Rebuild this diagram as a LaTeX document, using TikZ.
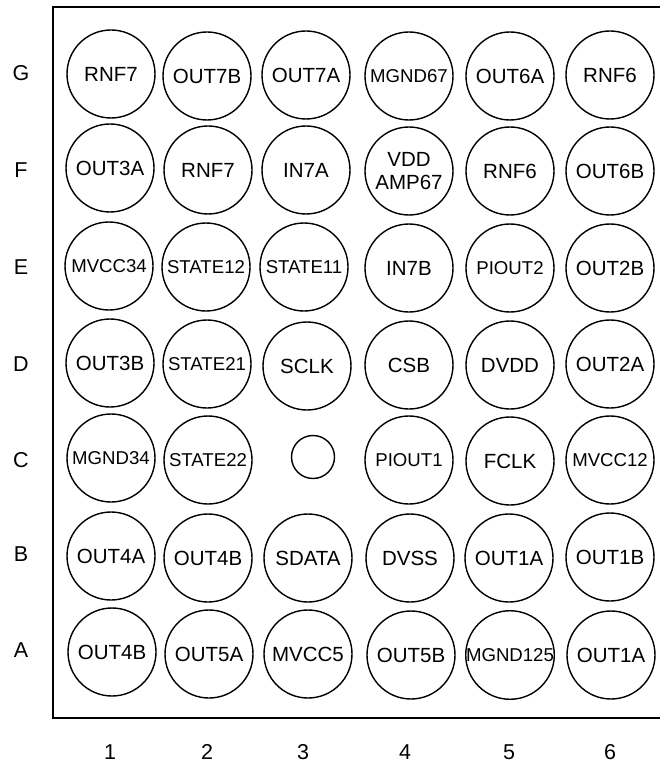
\documentclass[tikz,border=0pt]{standalone}
\usepackage{fontspec}
\setmainfont{Liberation Sans}
\usetikzlibrary{positioning}

\begin{document}
\begin{tikzpicture}[
    x=1pt, y=-1pt,
    ball/.style={circle, draw=black, line width=1.4pt, minimum size=88pt, inner sep=0pt, align=center, font=\fontsize{20.5}{22.5}\selectfont},
    longname/.style={font=\fontsize{18.6}{21}\selectfont},
    hole/.style={circle, draw=black, line width=1.4pt, minimum size=43pt, inner sep=0pt},
    gridlabel/.style={font=\fontsize{21.5}{24}\selectfont},
    frame/.style={draw=black, line width=2pt}
  ]
    \useasboundingbox (0,0) rectangle (660,767);
    \path [frame] (53,7) rectangle (664,718);

    % row G
    \node [ball] (g1) at (111,74) {RNF7};
    \node [ball] (g2) at (207,76) {OUT7B};
    \node [ball] (g3) at (306,75) {OUT7A};
    \node [ball, longname] (g4) at (409,76) {MGND67};
    \node [ball] (g5) at (510,76) {OUT6A};
    \node [ball] (g6) at (610,75) {RNF6};
    % row F
    \node [ball] (f1) at (110,168) {OUT3A};
    \node [ball] (f2) at (208,170) {RNF7};
    \node [ball] (f3) at (306,170) {IN7A};
    \node [ball] (f4) at (409,171) {VDD\\AMP67};
    \node [ball] (f5) at (510,171) {RNF6};
    \node [ball] (f6) at (610,171) {OUT6B};
    % row E
    \node [ball, longname] (e1) at (109,266) {MVCC34};
    \node [ball, longname] (e2) at (206,267) {STATE12};
    \node [ball, longname] (e3) at (304,267) {STATE11};
    \node [ball] (e4) at (409,268) {IN7B};
    \node [ball, longname] (e5) at (510,268) {PIOUT2};
    \node [ball] (e6) at (610,268) {OUT2B};
    % row D
    \node [ball] (d1) at (110,363) {OUT3B};
    \node [ball, longname] (d2) at (207,364) {STATE21};
    \node [ball] (d3) at (307,366) {SCLK};
    \node [ball] (d4) at (409,365) {CSB};
    \node [ball] (d5) at (510,365) {DVDD};
    \node [ball] (d6) at (610,364) {OUT2A};
    % row C
    \node [ball, longname] (c1) at (111,458) {MGND34};
    \node [ball, longname] (c2) at (208,460) {STATE22};
    \node [hole] (c3) at (313,457) {};
    \node [ball, longname] (c4) at (409,460) {PIOUT1};
    \node [ball] (c5) at (510,461) {FCLK};
    \node [ball, longname] (c6) at (610,460) {MVCC12};
    % row B
    \node [ball] (b1) at (111,556) {OUT4A};
    \node [ball] (b2) at (208,558) {OUT4B};
    \node [ball] (b3) at (308,558) {SDATA};
    \node [ball] (b4) at (410,558) {DVSS};
    \node [ball] (b5) at (509,558) {OUT1A};
    \node [ball] (b6) at (610,557) {OUT1B};
    % row A
    \node [ball] (a1) at (112,652) {OUT4B};
    \node [ball] (a2) at (209,654) {OUT5A};
    \node [ball] (a3) at (308,654) {MVCC5};
    \node [ball] (a4) at (411,655) {OUT5B};
    \node [ball, longname] (a5) at (510,655) {MGND125};
    \node [ball] (a6) at (611,655) {OUT1A};

    % row letters
    \node [gridlabel] (rowg) at (21,73) {G};
    \node [gridlabel] (rowf) at (21,170) {F};
    \node [gridlabel] (rowe) at (21,267) {E};
    \node [gridlabel] (rowd) at (21,364) {D};
    \node [gridlabel] (rowc) at (21,460) {C};
    \node [gridlabel] (rowb) at (21,554) {B};
    \node [gridlabel] (rowa) at (21,650) {A};
    % column numbers
    \node [gridlabel] (col1) at (110,752) {1};
    \node [gridlabel] (col2) at (207,752) {2};
    \node [gridlabel] (col3) at (303,752) {3};
    \node [gridlabel] (col4) at (405,752) {4};
    \node [gridlabel] (col5) at (509,752) {5};
    \node [gridlabel] (col6) at (610,752) {6};
\end{tikzpicture}
\end{document}
